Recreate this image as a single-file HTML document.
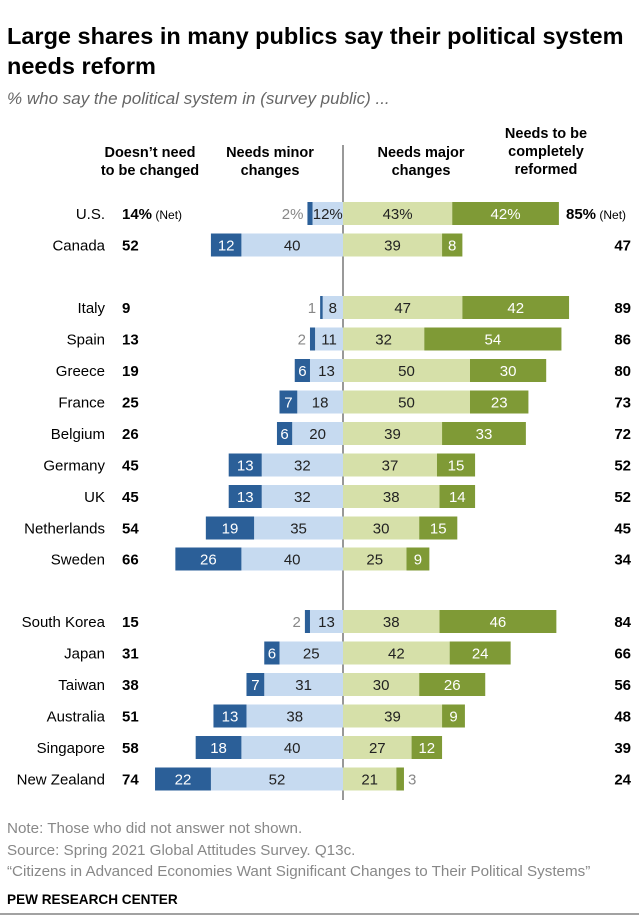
<!DOCTYPE html>
<html><head><meta charset="utf-8"><style>
body{margin:0;background:#fff;font-family:"Liberation Sans",Arial,sans-serif;}
#wrap{position:relative;width:639px;height:921px;overflow:hidden;}
.t{position:absolute;white-space:nowrap;}
</style></head><body>
<div id="wrap">
<div class="t" style="left:7px;top:21px;font-size:23.5px;font-weight:bold;line-height:30px;color:#000;">Large shares in many publics say their political system<br>needs reform</div>
<div class="t" style="left:7px;top:89px;font-size:17px;font-style:italic;color:#666;">% who say the political system in (survey public) ...</div>
<svg id="chart" width="639" height="921" style="position:absolute;left:0;top:0"></svg>
<div class="t" style="left:7px;top:818px;font-size:15.2px;color:#888;line-height:21.5px;">Note: Those who did not answer not shown.<br>Source: Spring 2021 Global Attitudes Survey. Q13c.<br>“Citizens in Advanced Economies Want Significant Changes to Their Political Systems”</div>
<div class="t" style="left:7px;top:892px;font-size:13.6px;font-weight:bold;color:#000;">PEW RESEARCH CENTER</div>
</div>
<script>
const countries=["U.S.","Canada","Italy","Spain","Greece","France","Belgium","Germany","UK","Netherlands","Sweden","South Korea","Japan","Taiwan","Australia","Singapore","New Zealand"];
const notNeed=[14,52,9,13,19,25,26,45,45,54,66,15,31,38,51,58,74];
const minor=[12,40,8,11,13,18,20,32,32,35,40,13,25,31,38,40,52];
const noChange=[2,12,1,2,6,7,6,13,13,19,26,2,6,7,13,18,22];
const major=[43,39,47,32,50,50,39,37,38,30,25,38,42,30,39,27,21];
const reform=[42,8,42,54,30,23,33,15,14,15,9,46,24,26,9,12,3];
const needReform=[85,47,89,86,80,73,72,52,52,45,34,84,66,56,48,39,24];
const rowY=[213.5,245,307.5,339,370.5,402,433.5,465,496.5,528,559,621.5,653,684.5,716,747.5,779];
const svg=document.getElementById('chart');const NS='http://www.w3.org/2000/svg';
const cx=343,k=2.54,bh=23;
const x=v=>cx+v*k;
function el(tag,a,txt){const e=document.createElementNS(NS,tag);for(const n in a)e.setAttribute(n,a[n]);if(txt!=null)e.textContent=txt;svg.appendChild(e);return e;}
function head(lines,xc,y,name){const t=el('text',{x:xc,y:y,'text-anchor':'middle','font-size':14.5,'font-weight':'bold',fill:'#000'});lines.forEach((l,i)=>{const s=document.createElementNS(NS,'tspan');s.setAttribute('x',xc);s.setAttribute('dy',i?18:0);s.textContent=l;t.appendChild(s);});}
head(["Doesn’t need","to be changed"],150,157,'header-not-need');
head(["Needs minor","changes"],270,157,'header-minor');
head(["Needs major","changes"],421,157,'header-major');
head(["Needs to be","completely","reformed"],546,138,'header-reform');
const ax=el('line',{x1:cx,y1:145,x2:cx,y2:800,stroke:'#333','stroke-width':1});

function bar(x0,x1,y,fill,name){const r=el('rect',{x:Math.min(x0,x1),y:y-bh/2,width:Math.abs(x1-x0),height:bh,fill:fill});return r;}
function lab(xp,y,s,fill,anchor,name,extra){const t=el('text',Object.assign({x:xp,y:y+5.5,'text-anchor':anchor||'middle','font-size':15,fill:fill},extra||{}),s);return t;}
countries.forEach((c,i)=>{
 const y=rowY[i];const pct=i===0?'%':'';
 lab(105,y,c,'#000','end','country-label');
 const a=lab(122,y,notNeed[i]+pct,'#000','start','value-not-need',{'font-weight':'bold'});
 if(i===0){const s=document.createElementNS(NS,'tspan');s.setAttribute('font-weight','normal');s.setAttribute('font-size',12);s.textContent=' (Net)';a.appendChild(s);}
 const xm=x(-minor[i]),xn=x(-minor[i]-noChange[i]);
 bar(xm,cx,y,'#c6daf0','bar-minor');
 bar(xn,xm,y,'#2b5f98','bar-no-change');
 lab((xm+cx)/2,y,minor[i]+pct,'#222','middle','value-minor');
 if(noChange[i]>=5) lab((xn+xm)/2,y,noChange[i]+pct,'#fff','middle','value-no-change');
 else lab(xn-4,y,noChange[i]+pct,'#888','end','value-no-change');
 const xa=x(major[i]),xr=x(major[i]+reform[i]);
 bar(cx,xa,y,'#d6e0a9','bar-major');
 bar(xa,xr,y,'#7f9a36','bar-reform');
 lab((cx+xa)/2,y,major[i]+pct,'#222','middle','value-major');
 if(reform[i]>=5) lab((xa+xr)/2,y,reform[i]+pct,'#fff','middle','value-reform');
 else lab(xr+4,y,reform[i]+pct,'#888','start','value-reform');
 const b=lab(i===0?566:631,y,needReform[i]+pct,'#000',i===0?'start':'end','value-need-reform',{'font-weight':'bold'});
 if(i===0){const s=document.createElementNS(NS,'tspan');s.setAttribute('font-weight','normal');s.setAttribute('font-size',12);s.textContent=' (Net)';b.appendChild(s);}
});
const bl=el('line',{x1:0,y1:914,x2:639,y2:914,stroke:'#444','stroke-width':1});

</script>
</body></html>
